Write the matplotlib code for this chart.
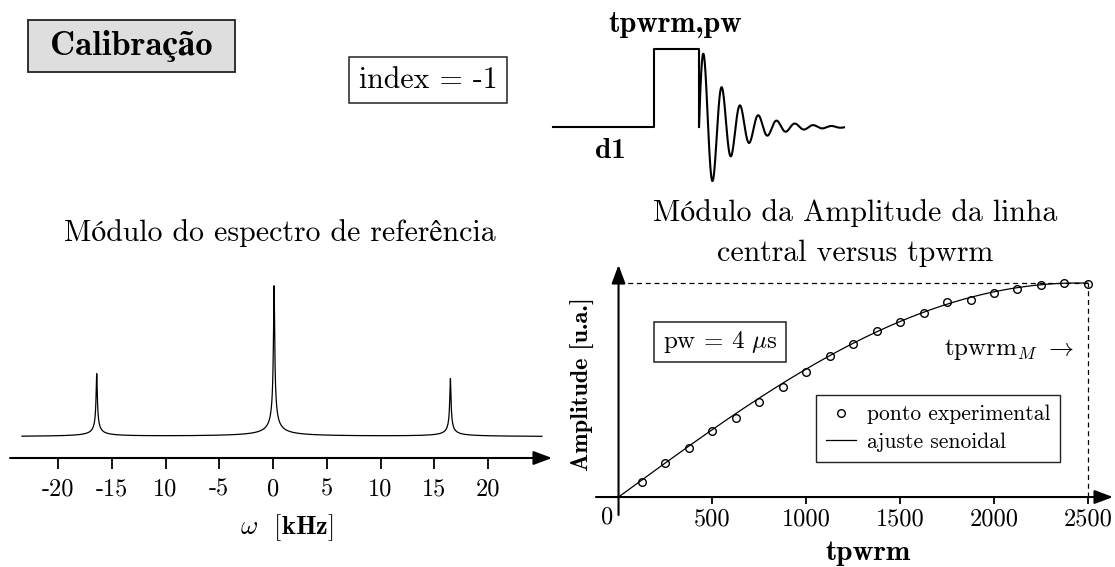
import numpy as np
import matplotlib
matplotlib.use("Agg")
import matplotlib.pyplot as plt
from matplotlib.patches import Rectangle

plt.rcParams['font.family'] = ['cmr10', 'STIXGeneral', 'DejaVu Serif']
plt.rcParams['mathtext.fontset'] = 'cm'
plt.rcParams['axes.unicode_minus'] = False
NEGRITO = ['cmb10', 'STIXGeneral', 'DejaVu Serif']

# espectro de referencia (kHz)
picos_pos = [-16.4, 0.1, 16.5]
picos_alt = [0.366, 0.878, 0.337]
picos_larg = [0.05, 0.05, 0.05]
linha_base = 0.122
freq_min, freq_max = -23.35, 25.02
freq_ticks = [-20, -15, -10, -5, 0, 5, 10, 15, 20]
freq_labels = ['-20', '-15', '10', '-5', '0', '5', '10', '15', '20']

# amplitude da linha central versus tpwrm
tpwrm = [125, 250, 375, 500, 625, 750, 875, 1000, 1125, 1250,
         1375, 1500, 1625, 1750, 1875, 2000, 2125, 2250, 2375, 2500]
amp = [0.068, 0.159, 0.231, 0.308, 0.370, 0.443, 0.513, 0.584, 0.657, 0.716,
       0.775, 0.819, 0.862, 0.909, 0.920, 0.953, 0.973, 0.992, 1.0, 0.995]
ajuste_amp = 1.0
ajuste_max = 2450
tpwrm_ticks = [500, 1000, 1500, 2000, 2500]

# sequencia de pulsos (unidades arbitrarias)
d1 = 101
pw = 45
alt_pulso = 78
aq = 145
fid_amp = 85
fid_periodo = 18.3
fid_t2 = 30

W, H = 1115, 567


def fx(x):
    return x / W


def fy(y):
    return 1 - y / H


def caixa(x0, y0, x1, y1, fc='white', lw=1.1):
    r = Rectangle((fx(x0), fy(y1)), (x1 - x0) / W, (y1 - y0) / H,
                  transform=fig.transFigure, fc=fc, ec='#222222', lw=lw)
    fig.add_artist(r)


fig = plt.figure(figsize=(W / 100, H / 100), dpi=100)

seta = dict(arrowstyle='-|>,head_length=0.8,head_width=0.3', color='k',
            lw=1.5, shrinkA=0, shrinkB=0, mutation_scale=14)

# ---- espectro ----
ax1 = fig.add_axes([fx(10), fy(458), (552 - 10) / W, (458 - 270) / H])
w = np.arange(freq_min, freq_max, 0.004)
s = np.full_like(w, linha_base)
for p, h, g in zip(picos_pos, picos_alt, picos_larg):
    s += h * g / np.sqrt(g ** 2 + (w - p) ** 2)
ax1.plot(w, s, color='k', lw=0.9)
ax1.set_xlim((10 - 273) / 10.75, (552 - 273) / 10.75)
ax1.set_ylim(0, 188 / 172)
for sp in ax1.spines.values():
    sp.set_visible(False)
ax1.patch.set_visible(False)
ax1.annotate('', xy=(1, 0), xytext=(0, 0), xycoords='axes fraction',
             arrowprops=seta, annotation_clip=False)
ax1.set_xticks(freq_ticks, freq_labels)
ax1.set_yticks([])
ax1.tick_params(axis='x', direction='out', length=8, width=1.3, pad=7,
                labelsize=17.5)

fig.text(fx(280), fy(233), 'Módulo do espectro de referência',
         ha='center', va='center', fontsize=21.5)
fig.text(fx(287), fy(528), r'$\omega$  [$\mathbf{kHz}$]',
         ha='center', va='center', fontsize=19)

# ---- amplitude vs tpwrm ----
ax2 = fig.add_axes([fx(596), fy(515), (1113 - 596) / W, (515 - 265) / H])
ax2.set_xlim(-120, 2634)
ax2.set_ylim(-0.084, 1.084)
for sp in ax2.spines.values():
    sp.set_visible(False)
ax2.spines['bottom'].set_position(('data', 0))
ax2.patch.set_visible(False)
ax2.annotate('', xy=(2634, 0), xytext=(-120, 0), arrowprops=seta,
             annotation_clip=False)
ax2.annotate('', xy=(0, 1.084), xytext=(0, -0.084), arrowprops=seta,
             annotation_clip=False)

a_max = max(amp)
x_m = tpwrm[-1]
ax2.plot([0, x_m], [a_max, a_max], color='k', lw=0.9, ls=(0, (4, 3)))
ax2.plot([x_m, x_m], [0, a_max], color='k', lw=0.9, ls=(0, (4, 3)))

xf = np.linspace(0, x_m, 400)
yf = ajuste_amp * np.sin(np.pi / 2 * xf / ajuste_max)
linha, = ax2.plot(xf, yf, color='k', lw=0.9, label='ajuste senoidal')
pts, = ax2.plot(tpwrm, amp, 'o', mfc='none', mec='k', ms=5.5, mew=1.0,
                label='ponto experimental', clip_on=False)
ax2.set_xticks(tpwrm_ticks, [str(t) for t in tpwrm_ticks])
ax2.set_yticks([])
ax2.tick_params(axis='x', direction='out', length=5, width=1.3, pad=3.5,
                labelsize=17.5)

leg = ax2.legend(handles=[pts, linha], loc='upper left',
                 bbox_to_anchor=(fx(816), fy(395)), bbox_transform=fig.transFigure,
                 borderaxespad=0, borderpad=0.45, fontsize=15.5, handlelength=1.4,
                 handletextpad=0.5, labelspacing=0.38, fancybox=False,
                 framealpha=1, edgecolor='#222222', numpoints=1)
leg.get_frame().set_linewidth(1.0)

fig.text(fx(607), fy(517), '0', ha='center', va='center', fontsize=17.5)
fig.text(fx(868), fy(553), 'tpwrm', ha='center', va='center', fontsize=21,
         family=NEGRITO, weight='bold')
fig.text(fx(583), fy(384), 'Amplitude [u.a.]', ha='center', va='center',
         rotation=90, fontsize=17.5, family=NEGRITO, weight='bold')
fig.text(fx(855), fy(213), 'Módulo da Amplitude da linha', ha='center',
         va='center', fontsize=21.5)
fig.text(fx(855), fy(253), 'central versus tpwrm', ha='center',
         va='center', fontsize=21.5)
fig.text(fx(1074), fy(350), r'tpwrm$_M$ $\rightarrow$', ha='right',
         va='center', fontsize=18)
caixa(654, 322, 786, 362)
fig.text(fx(720), fy(342), r'pw = 4 $\mu$s', ha='center', va='center',
         fontsize=18)

# ---- sequencia de pulsos ----
ax3 = fig.add_axes([fx(540), fy(190), 320 / W, 150 / H])
ax3.set_xlim(-13, 307)
ax3.set_ylim(-63, 87)
ax3.axis('off')
t_seq = [0, d1, d1, d1 + pw, d1 + pw]
y_seq = [0, 0, alt_pulso, alt_pulso, 0]
ax3.plot(t_seq, y_seq, color='k', lw=1.5)
t = np.linspace(0, aq, 1500)
fid = fid_amp * np.exp(-t / fid_t2) * np.sin(2 * np.pi * t / fid_periodo)
ax3.plot(d1 + pw + t, fid, color='k', lw=1.5)

fig.text(fx(675), fy(24), 'tpwrm,pw', ha='center', va='center', fontsize=21.5,
         family=NEGRITO, weight='bold')
fig.text(fx(610), fy(151), 'd1', ha='center', va='center', fontsize=21,
         family=NEGRITO, weight='bold')

# ---- caixas do topo ----
caixa(28, 20, 235, 72, fc='#dedede', lw=1.3)
fig.text(fx(131), fy(46), 'Calibração', ha='center', va='center',
         fontsize=25, family=NEGRITO, weight='bold')
caixa(349, 57, 507, 103)
fig.text(fx(428), fy(80), 'index = -1', ha='center', va='center',
         fontsize=21.5)

fig.savefig('out.png', dpi=100, facecolor='white')
